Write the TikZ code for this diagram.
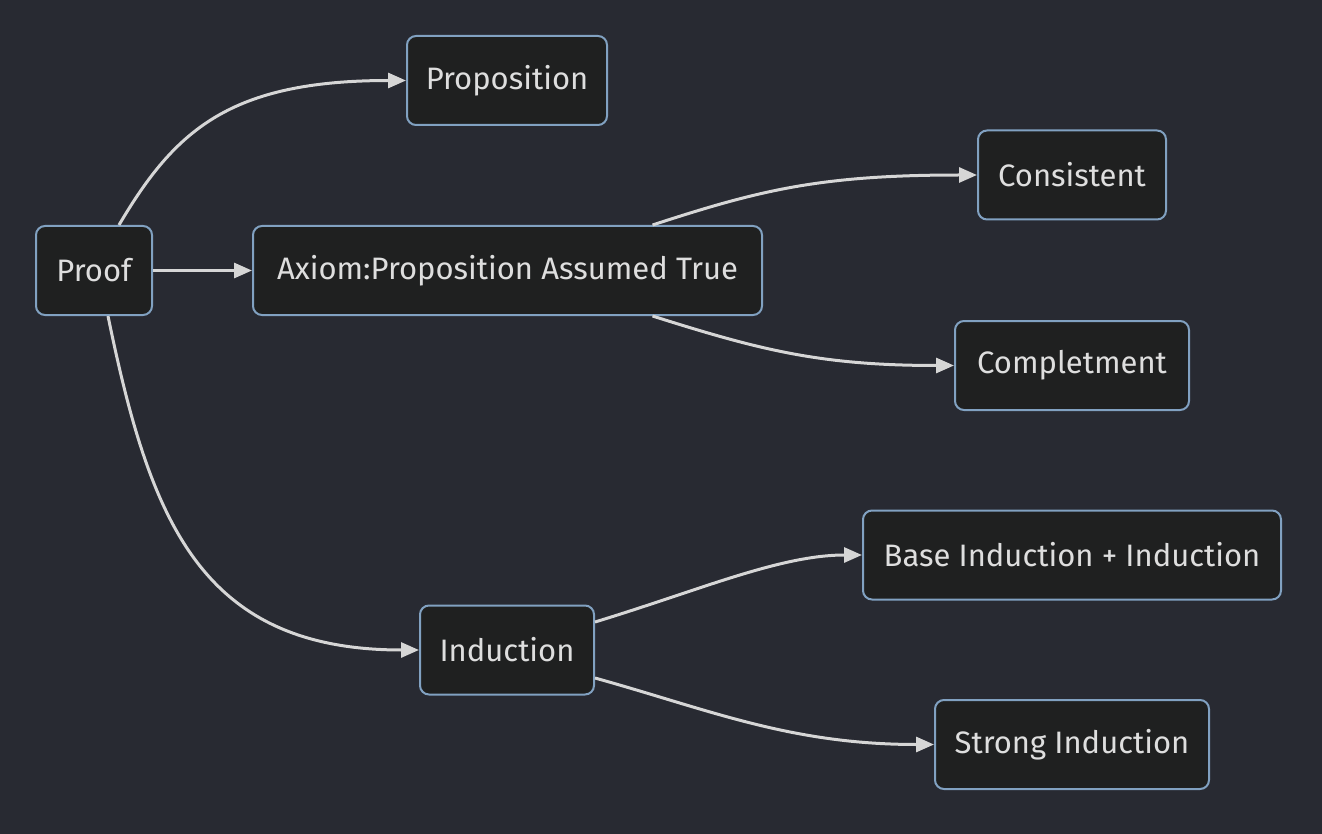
\documentclass[tikz,border=0pt]{standalone}
\usepackage{fontspec}
\setmainfont{Fira Sans}
\usetikzlibrary{arrows.meta}
\definecolor{bg}{RGB}{40,42,50}
\definecolor{nodefill}{RGB}{31,32,32}
\definecolor{nodeline}{RGB}{129,161,193}
\definecolor{edge}{RGB}{214,214,214}
\definecolor{txt}{RGB}{222,222,222}
\begin{document}
\begin{tikzpicture}[x=1pt,y=-1pt,
  box/.style={draw=nodeline, line width=2pt, fill=nodefill, rounded corners=9pt,
    minimum height=89pt, inner sep=0pt, text=txt, font=\fontsize{31}{36}\selectfont},
  conn/.style={draw=edge, line width=3pt, -{Triangle[length=18pt,width=15pt]}}]
\fill[bg] (0,0) rectangle (1322,834);
\useasboundingbox (0,0) rectangle (1322,834);
\node[box, minimum width=116pt] (proof) at (94,270.5) {Proof};
\node[box, minimum width=200pt] (prop) at (507,80.5) {Proposition};
\node[box, minimum width=509pt] (axiom) at (507.5,270.5) {Axiom:Proposition Assumed True};
\node[box, minimum width=188pt] (cons) at (1072,175) {Consistent};
\node[box, minimum width=234pt] (compl) at (1072,365.5) {Completment};
\node[box, minimum width=418pt] (base) at (1072,555) {Base Induction + Induction};
\node[box, minimum width=174pt] (ind) at (507,650) {Induction};
\node[box, minimum width=274pt] (strong) at (1072,744.5) {Strong Induction};
\draw[conn] ([xshift=25pt]proof.north) .. controls (175,130) and (230,80.5) .. (prop.west);
\draw[conn] (proof.east) -- (axiom.west);
\draw[conn] ([xshift=14pt]proof.south) .. controls (150,520) and (200,650) .. (ind.west);
\draw[conn] ([xshift=145pt]axiom.north) .. controls (760,190) and (820,175) .. (cons.west);
\draw[conn] ([xshift=145pt]axiom.south) .. controls (760,350) and (820,365.5) .. (compl.west);
\draw[conn] ([yshift=28pt]ind.east) .. controls (700,590) and (780,555) .. (base.west);
\draw[conn] ([yshift=-28pt]ind.east) .. controls (710,710) and (790,744.5) .. (strong.west);
\end{tikzpicture}
\end{document}
